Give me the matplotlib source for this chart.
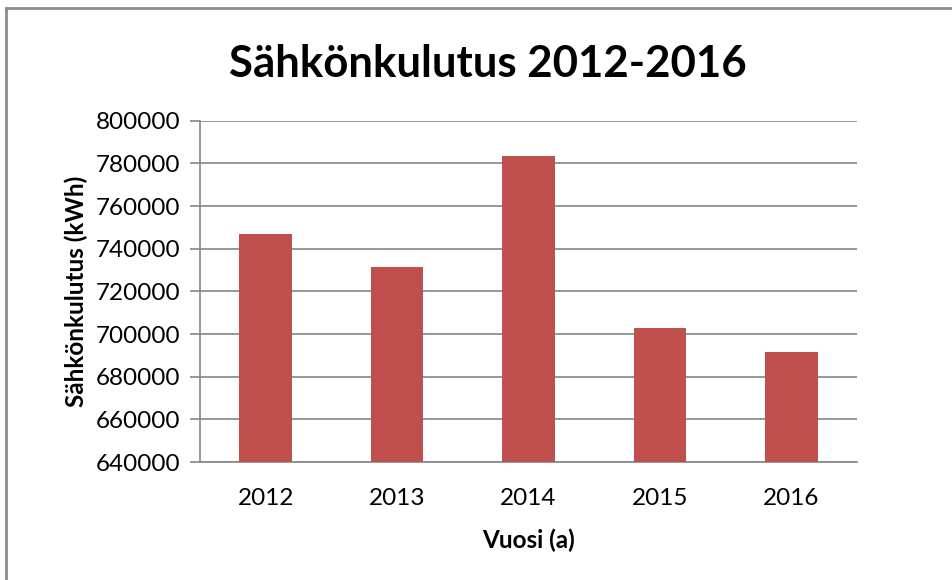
import matplotlib.pyplot as plt
from matplotlib.lines import Line2D

plt.rcParams['font.family'] = ['Lato', 'DejaVu Sans']

# data
years = ['2012', '2013', '2014', '2015', '2016']
consumption = [746800, 731500, 783300, 702600, 691500]
y_ticks = list(range(640000, 800001, 20000))

fig = plt.figure(figsize=(9.53, 5.80), dpi=100)
ax = fig.add_axes([0.2099, 0.2034, 0.6894, 0.5885])

ax.bar(years, consumption, width=0.4, color='#C0504D', zorder=3)

ax.set_ylim(640000, 800000)
ax.set_xlim(-0.5, len(years) - 0.5)
ax.set_yticks(y_ticks)
ax.set_yticklabels([str(t) for t in y_ticks])
ax.yaxis.grid(True, color='#868686', linewidth=1.2, zorder=0)

for side in ['top', 'right']:
    ax.spines[side].set_visible(False)
for side in ['left', 'bottom']:
    ax.spines[side].set_color('#868686')
    ax.spines[side].set_linewidth(1.2)

ax.tick_params(axis='y', length=7, color='#868686', width=1.2, labelsize=17.5, pad=7)
ax.tick_params(axis='x', length=0, labelsize=17.5, pad=19)

ax.set_ylabel('Sähkönkulutus (kWh)', fontsize=17.5, fontweight='bold', labelpad=6)
ax.set_xlabel('Vuosi (a)', fontsize=17.5, fontweight='bold', labelpad=14)

fig.text(0.512, 0.89, 'Sähkönkulutus 2012-2016', fontsize=31.5, fontweight='bold',
         ha='center', va='center')

# chart area border (left and top edges visible)
fig.add_artist(Line2D([0.0068, 0.0068], [0, 0.986], color='#8c8c8c', linewidth=2))
fig.add_artist(Line2D([0.0068, 1.0], [0.986, 0.986], color='#8c8c8c', linewidth=2))

plt.savefig('out.png', dpi=100)
